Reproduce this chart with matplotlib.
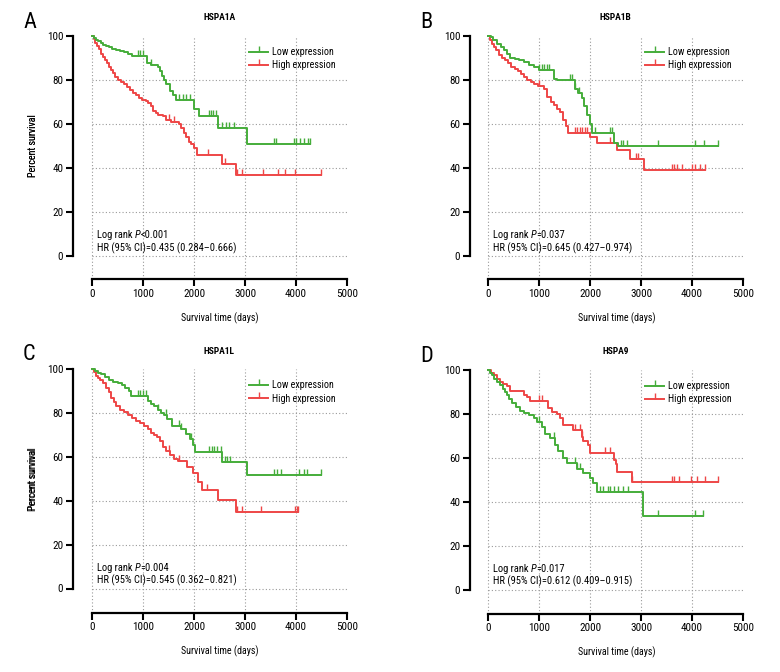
import os
import numpy as np
import matplotlib
matplotlib.use("Agg")
import matplotlib.pyplot as plt
from matplotlib.lines import Line2D
from matplotlib import font_manager as fm
from matplotlib.transforms import offset_copy

# ---------- pick a narrow / condensed sans font if one is installed ----------
FAMILY, STRETCH = 'DejaVu Sans', 'normal'
_pref = ['Liberation Sans Narrow', 'Roboto Condensed', 'Open Sans Condensed', 'Noto Sans Condensed',
         'DejaVu Sans Condensed']
_found = False
for nm in _pref:
    try:
        fm.findfont(fm.FontProperties(family=nm), fallback_to_default=False)
        FAMILY, STRETCH, _found = nm, 'normal', True
        break
    except Exception:
        pass
if not _found:
    cands = []
    for f in fm.fontManager.ttflist:
        b = os.path.basename(f.fname)
        st = f.stretch
        narrow = ('Condensed' in b or 'Narrow' in b or
                  st in ('condensed', 'semi-condensed', 'extra-condensed', 'ultra-condensed') or
                  (isinstance(st, int) and st < 500))
        if narrow and 'Mono' not in b and 'Serif' not in b:
            cands.append(f)
    pri = ['DejaVu Sans', 'Noto Sans', 'Open Sans', 'Roboto', 'Liberation Sans', 'Lato', 'Inter']
    cands.sort(key=lambda f: (pri.index(f.name) if f.name in pri else 99))
    if cands:
        FAMILY, STRETCH = cands[0].name, cands[0].stretch
        _found = True
if not _found:
    FAMILY = 'Liberation Sans'

plt.rcParams['font.family'] = [FAMILY, 'DejaVu Sans']
plt.rcParams['font.stretch'] = STRETCH

GREEN = '#45AD3A'
RED = '#EE4646'

# ---------------- data ----------------
titles = ["HSPA1A", "HSPA1B", "HSPA1L", "HSPA9"]
letters = ["A", "B", "C", "D"]
p_signs = ["<0.001", "=0.037", "=0.004", "=0.017"]
hrs = ["HR (95% CI)=0.435 (0.284\u20130.666)", "HR (95% CI)=0.645 (0.427\u20130.974)",
       "HR (95% CI)=0.545 (0.362\u20130.821)", "HR (95% CI)=0.612 (0.409\u20130.915)"]
legend_labels = ["Low expression", "High expression"]
xticks = [0, 1000, 2000, 3000, 4000, 5000]
yticks = [0, 20, 40, 60, 80, 100]

# Panel A
a_low_t = [0, 40, 80, 120, 170, 220, 280, 340, 400, 470, 540, 620, 700, 780, 1080, 1150, 1300,
           1340, 1380, 1420, 1460, 1520, 1580, 1640, 2000, 2100, 2480, 3040, 4270]
a_low_s = [100, 99, 98, 97.5, 97, 96, 95.5, 95, 94, 93.5, 93, 92.5, 92, 91, 87.5, 87, 86,
           84, 82, 80, 78, 75, 73, 71, 67, 63.5, 58, 51, 51]
a_low_c = [900, 950, 1000, 1150, 1700, 1780, 1850, 1930, 2300, 2340, 2380, 2430, 2550, 2620,
           2680, 2780, 3560, 3610, 3960, 4000, 4070, 4150, 4230, 4270]
a_high_t = [0, 30, 60, 100, 140, 180, 220, 260, 300, 340, 380, 420, 460, 500, 560, 620, 680, 740,
            800, 860, 920, 980, 1050, 1100, 1150, 1200, 1250, 1300, 1400, 1450, 1550, 1700, 1750,
            1800, 1850, 1900, 1950, 2000, 2050, 2540, 2820, 4500]
a_high_s = [100, 98.5, 97, 95.5, 94, 92, 90.5, 89, 87.5, 86, 84.5, 83, 81.5, 80, 79, 78, 77, 75.5,
            74, 73, 72, 71, 70.5, 69.5, 68, 66, 65, 64, 63.5, 62, 61, 60, 58,
            56, 54, 52, 51, 49, 46, 42, 37, 37]
a_high_c = [1500, 1600, 2280, 2600, 2850, 2950, 3350, 3650, 3780, 3980, 4500]

# Panel B
b_low_t = [0, 50, 100, 180, 250, 320, 380, 440, 520, 600, 700, 800, 900, 1000, 1300, 1360, 1700,
           1760, 1840, 1880, 1940, 2000, 2040, 2480, 2550, 4500]
b_low_s = [100, 99.5, 98, 96.5, 95, 93.5, 92, 90, 89.5, 89, 88, 87, 86, 84.5, 80.5, 80, 76,
           74, 72, 68, 64, 60, 56, 51.5, 50, 50]
b_low_c = [1000, 1050, 1100, 1150, 1200, 1600, 1650, 1700, 1780, 2100, 2400, 2430, 2600, 2650,
           2720, 3330, 4050, 4230, 4500]
b_high_t = [0, 40, 80, 120, 160, 220, 280, 340, 400, 460, 520, 580, 640, 700, 760, 840, 900, 980,
            1100, 1160, 1230, 1290, 1350, 1420, 1480, 1520, 1560, 2000, 2130, 2530, 2790, 3050, 4260]
b_high_s = [100, 98, 96.5, 95, 93.5, 91.5, 90, 89, 87.5, 86, 85, 84, 82.5, 81.5, 80, 79, 78, 77.5,
            76, 72.5, 70, 68.5, 67, 65.5, 62, 59, 56, 54, 51.5, 48, 44, 39, 39]
b_high_c = [1000, 1700, 1750, 1800, 1850, 1900, 1950, 2400, 2900, 2950, 3600, 3650, 3700, 3800,
            4000, 4050, 4150, 4260]

# Panel C
c_low_t = [0, 60, 120, 180, 260, 340, 420, 500, 580, 650, 720, 760, 1100, 1160, 1220, 1300, 1360,
           1420, 1480, 1560, 1740, 1850, 1920, 1980, 2020, 2540, 3030, 4500]
c_low_s = [100, 99, 98, 97.5, 96.5, 95, 94, 93.5, 92.5, 91.5, 90, 87.5, 85.5, 84, 83, 81.5, 80,
           79, 77, 74, 72.5, 70.5, 68, 65.5, 62, 57.5, 51.5, 51.5]
c_low_c = [900, 950, 1000, 1050, 1300, 1450, 1700, 1750, 1950, 2300, 2350, 2400, 2450, 2530,
           2600, 2650, 2700, 3560, 3620, 3700, 4050, 4150, 4220, 4500]
c_high_t = [0, 40, 80, 120, 160, 220, 280, 330, 380, 430, 480, 540, 620, 700, 780, 860, 940, 1020,
            1100, 1160, 1220, 1280, 1340, 1400, 1460, 1530, 1600, 1680, 1860, 1990, 2080, 2150,
            2480, 2820, 4040]
c_high_s = [100, 98.5, 97, 96, 95, 93.5, 91.5, 89.5, 87, 85, 83, 81.5, 80.5, 79, 77.5, 76.5, 75.5, 74,
            72.5, 71, 70, 69, 67, 64.5, 62.5, 61, 59, 58, 55.5, 52.5, 48.5, 45, 40.5, 35, 35]
c_high_c = [1500, 1700, 2250, 2850, 2950, 3320, 3980, 4010, 4040]

# Panel D
d_low_t = [0, 40, 80, 120, 180, 240, 300, 340, 380, 420, 480, 540, 620, 700, 800, 900, 960,
           1050, 1120, 1220, 1320, 1380, 1480, 1540, 1740, 1870, 2000, 2060, 2130, 3040, 4220]
d_low_s = [100, 98.5, 97.5, 96, 94.5, 93, 91.5, 90, 88.5, 87, 85, 83, 81.5, 80.5, 79.5, 78, 76.5,
           74, 71, 69, 66, 63, 60, 57.5, 55, 53, 51, 48.5, 44.5, 33.5, 33.5]
d_low_c = [1000, 1300, 1700, 1750, 1800, 2200, 2250, 2350, 2400, 2480, 2550, 2650, 2750,
           3330, 4050, 4220]
d_high_t = [0, 60, 110, 170, 240, 300, 370, 440, 700, 760, 830, 1180, 1260, 1350, 1410, 1480,
            1670, 1840, 1870, 1970, 2000, 2470, 2500, 2530, 2820, 4500]
d_high_s = [100, 98.5, 97.5, 96, 94.5, 93.5, 92.5, 90.5, 88.5, 87.5, 86, 82.5, 81, 80, 78, 75,
            72.5, 69.5, 67.5, 66, 62, 59, 57, 53.5, 49, 49]
d_high_c = [1000, 1050, 1700, 1800, 1850, 2300, 2400, 2830, 3600, 3650, 3750, 3980, 4100, 4250, 4500]

panels = [
    (a_low_t, a_low_s, a_low_c, a_high_t, a_high_s, a_high_c),
    (b_low_t, b_low_s, b_low_c, b_high_t, b_high_s, b_high_c),
    (c_low_t, c_low_s, c_low_c, c_high_t, c_high_s, c_high_c),
    (d_low_t, d_low_s, d_low_c, d_high_t, d_high_s, d_high_c),
]

# ---------------- layout (pixels) ----------------
W, H = 780, 672
# spine_x, x0px, x5000px, y100px, y0px, xspine_px
geoms = [
    (73, 92, 347, 36, 256, 279),
    (470, 488, 743, 36, 256, 279),
    (73, 92, 347, 369, 588.5, 612.5),
    (470, 488, 743, 370, 589.5, 613.5),
]

fig = plt.figure(figsize=(W / 100, H / 100), dpi=100)
fig.canvas.draw()
renderer = fig.canvas.get_renderer()

FS_TICK = 8
FS_ANN = 7.6
FS_LEG = 7.2
FS_LAB = 7.2
FS_TITLE = 6.8


def step_val(t, s, c):
    idx = np.searchsorted(np.asarray(t), c, side='right') - 1
    return np.asarray(s)[idx]


def rich_text(ax, x, y, parts):
    """parts: list of (text, style); drawn left to right in data coords."""
    dx = 0.0
    for txt, style in parts:
        t = ax.text(x, y, txt, fontsize=FS_ANN, ha='left', va='center', style=style,
                    transform=offset_copy(ax.transData, fig=fig, x=dx, y=0, units='dots'))
        bb = t.get_window_extent(renderer=renderer)
        dx += bb.width


for i, (g, data) in enumerate(zip(geoms, panels)):
    spx, x0, x5, y100, y0, xsp = g
    sx = (x5 - x0) / 5000.0
    sy = (y0 - y100) / 100.0
    xmin = -(x0 - spx) / sx
    ymin = -(xsp - y0) / sy
    ymax = 103
    top_px = y0 - ymax * sy
    ax = fig.add_axes([spx / W, 1 - xsp / H, (x5 - spx) / W, (xsp - top_px) / H])
    ax.set_xlim(xmin, 5000)
    ax.set_ylim(ymin, ymax)
    ax.patch.set_alpha(0)

    for sp in ['top', 'right']:
        ax.spines[sp].set_visible(False)
    ax.spines['left'].set_bounds(0, 100)
    ax.spines['bottom'].set_bounds(0, 5000)
    for sp in ['left', 'bottom']:
        ax.spines[sp].set_linewidth(1.6)
    ax.set_xticks(xticks)
    ax.set_yticks(yticks)
    ax.tick_params(axis='both', direction='out', length=5, width=1.5, labelsize=FS_TICK, pad=2)

    # grid
    for yv in yticks[:-1]:
        ax.plot([0, 5000], [yv, yv], ls=(0, (1, 2)), color='#9a9a9a', lw=0.8, zorder=1)
    for xv in xticks[:-1]:
        ax.plot([xv, xv], [ymin, 100], ls=(0, (1, 2)), color='#9a9a9a', lw=0.8, zorder=1)

    lt, ls_, lc, ht, hs, hc = data
    for t, s, c, col, z in [(ht, hs, hc, RED, 3), (lt, ls_, lc, GREEN, 4)]:
        ax.step(t, s, where='post', color=col, lw=1.4, zorder=z, clip_on=False)
        ax.plot(c, step_val(t, s, c), ls='none', marker=2, ms=4, mew=1.0, color=col,
                zorder=z, clip_on=False)

    ax.set_xlabel("Survival time (days)", fontsize=FS_LAB)
    ax.xaxis.set_label_coords((220 - 73) / (x5 - spx), -(318 - 279) / (xsp - top_px))
    ax.set_ylabel("Percent survival", fontsize=FS_LAB)
    ax.yaxis.set_label_coords((33 - spx) / (x5 - spx), (xsp - (y0 + y100) / 2) / (xsp - top_px))
    ax.xaxis.label.set_va('center')
    ax.yaxis.label.set_va('center')

    cx = (x0 + x5) / 2
    fig.text(cx / W, 1 - (y100 - 18) / H, titles[i], ha='center', va='center', fontsize=FS_TITLE,
             fontweight='bold')
    fig.text((spx - 50) / W, 1 - (y100 - 14) / H, letters[i], ha='left', va='center', fontsize=16)

    rich_text(ax, 100, 9.5, [("Log rank ", 'normal'), ("P", 'italic'), (p_signs[i], 'normal')])
    ax.text(100, 3.6, hrs[i], fontsize=FS_ANN, ha='left', va='center')

    handles = [Line2D([], [], color=GREEN, lw=1.4, marker=2, ms=4, mew=1.0),
               Line2D([], [], color=RED, lw=1.4, marker=2, ms=4, mew=1.0)]
    fig.legend(handles, legend_labels, loc='upper left',
               bbox_to_anchor=((x0 + 157) / W, 1 - (y100 + 11) / H),
               bbox_transform=fig.transFigure, frameon=False, fontsize=FS_LEG, numpoints=1,
               handlelength=1.9, handletextpad=0.4, labelspacing=0.35, borderpad=0,
               borderaxespad=0)

fig.savefig("out.png", dpi=100)
